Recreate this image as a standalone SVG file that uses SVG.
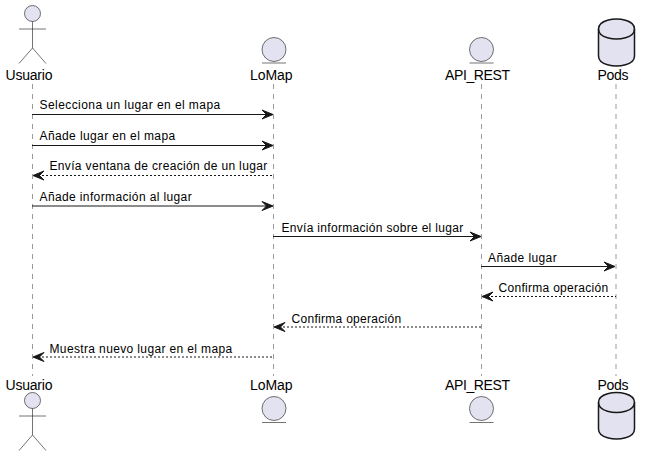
<svg xmlns="http://www.w3.org/2000/svg" width="650" height="456" viewBox="0 0 650 456">
<style>
text{font-family:"Liberation Sans",Arial,sans-serif;fill:#000}
.p{font-size:14px}
.m{font-size:12px;letter-spacing:.32px}
.life{stroke:#181818;stroke-opacity:.55;stroke-width:.8;stroke-dasharray:5 5;fill:none}
.fig{fill:#E2E2F0;stroke:#181818;stroke-opacity:.6;stroke-width:1}
.ln{fill:none;stroke:#181818;stroke-opacity:.6;stroke-width:1}
.db{fill:#E2E2F0;stroke:#181818;stroke-width:1.5}
.dl{fill:none;stroke:#181818;stroke-width:1.5}
.s{stroke:#181818;stroke-width:1;fill:none}
.d{stroke:#181818;stroke-width:1;fill:none;stroke-dasharray:2 2}
</style>
<defs>
<polygon id="ar" points="-11,-4.500 0,0 -11,4.500 -6.500,0" fill="#181818" stroke="#181818"/>
<polygon id="al" points="11,-4.500 0,0 11,4.500 6.500,0" fill="#181818" stroke="#181818"/>
</defs>
<g id="lifelines">
<path class="life" d="M32.500 84V376"/><path class="life" d="M273.500 84V376"/><path class="life" d="M481.500 84V376"/><path class="life" d="M616 84V376"/>
</g>
<g id="connectors">
<path class="s" d="M32 114.500H272"/><use href="#ar" x="273" y="114.500"/>
<path class="s" d="M32 145.500H272"/><use href="#ar" x="273" y="145.500"/>
<path class="d" d="M34 175.500H273"/><use href="#al" x="33" y="175.500"/>
<path class="s" d="M32 206H272"/><use href="#ar" x="273" y="206"/>
<path class="s" d="M273 236.500H480"/><use href="#ar" x="481" y="236.500"/>
<path class="s" d="M481 266.500H614"/><use href="#ar" x="615" y="266.500"/>
<path class="d" d="M483 296.500H616"/><use href="#al" x="482" y="296.500"/>
<path class="d" d="M275 327H481"/><use href="#al" x="274" y="327"/>
<path class="d" d="M34 357H273"/><use href="#al" x="33" y="357"/>
</g>
<g id="labels">
<text class="m" x="39.500" y="109" textLength="181">Selecciona un lugar en el mapa</text>
<text class="m" x="39.500" y="140" textLength="136">Añade lugar en el mapa</text>
<text class="m" x="49.500" y="170" textLength="218">Envía ventana de creación de un lugar</text>
<text class="m" x="39.500" y="201" textLength="152.500">Añade información al lugar</text>
<text class="m" x="281.500" y="232" textLength="182">Envía información sobre el lugar</text>
<text class="m" x="488" y="262" textLength="69">Añade lugar</text>
<text class="m" x="498.500" y="292" textLength="110">Confirma operación</text>
<text class="m" x="291.500" y="323" textLength="110">Confirma operación</text>
<text class="m" x="49.500" y="353" textLength="183">Muestra nuevo lugar en el mapa</text>
</g>
<g id="usuario-top">
<circle class="fig" cx="32.500" cy="13.500" r="8"/>
<path class="ln" d="M32.500 21.500V48M19 29H46M32.500 48L19 63.500M32.500 48L46 63.500"/>
<text class="p" x="5.500" y="80" textLength="47">Usuario</text>
</g>
<g id="lomap-top">
<circle class="fig" cx="274" cy="49.500" r="12"/>
<path class="ln" d="M262 63H286"/>
<text class="p" x="250" y="80" textLength="42.500">LoMap</text>
</g>
<g id="api-top">
<circle class="fig" cx="481.500" cy="49.500" r="12"/>
<path class="ln" d="M469.500 63H493.500"/>
<text class="p" x="445" y="80" textLength="65">API_REST</text>
</g>
<g id="pods-top">
<path class="db" d="M598.500 29C598.500 19 616.500 19 616.500 19C616.500 19 634.500 19 634.500 29V56C634.500 66 616.500 66 616.500 66C616.500 66 598.500 66 598.500 56Z"/>
<path class="dl" d="M598.500 29C598.500 39 616.500 39 616.500 39C616.500 39 634.500 39 634.500 29"/>
<text class="p" x="597.500" y="80" textLength="31">Pods</text>
</g>
<g id="usuario-bottom">
<text class="p" x="5.500" y="390" textLength="47">Usuario</text>
<circle class="fig" cx="32.500" cy="400.500" r="8"/>
<path class="ln" d="M32.500 408.500V435M19 416H46M32.500 435L19 450.500M32.500 435L46 450.500"/>
</g>
<g id="lomap-bottom">
<text class="p" x="250" y="390" textLength="42.500">LoMap</text>
<circle class="fig" cx="274" cy="408.500" r="12"/>
<path class="ln" d="M262 422.500H286"/>
</g>
<g id="api-bottom">
<text class="p" x="445" y="390" textLength="65">API_REST</text>
<circle class="fig" cx="481.500" cy="408.500" r="12"/>
<path class="ln" d="M469.500 422.500H493.500"/>
</g>
<g id="pods-bottom">
<text class="p" x="597.500" y="390" textLength="31">Pods</text>
<path class="db" d="M598.500 402.500C598.500 392.500 616.500 392.500 616.500 392.500C616.500 392.500 634.500 392.500 634.500 402.500V429C634.500 439 616.500 439 616.500 439C616.500 439 598.500 439 598.500 429Z"/>
<path class="dl" d="M598.500 402.500C598.500 412.500 616.500 412.500 616.500 412.500C616.500 412.500 634.500 412.500 634.500 402.500"/>
</g>
</svg>
